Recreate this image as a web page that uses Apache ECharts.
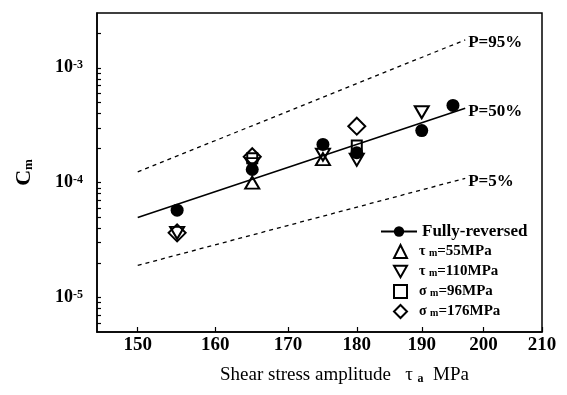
<!DOCTYPE html>
<html>
<head>
<meta charset="utf-8">
<script src="https://cdn.jsdelivr.net/npm/echarts@6/dist/echarts.min.js"></script>
<style>html,body{margin:0;padding:0;background:#fff}#c{width:567px;height:395px}</style>
</head>
<body>
<div id="c"></div>
<script>
// ---- data ----
var xTicks = [150, 160, 170, 180, 190, 200, 210];
var yMajorTicks = [1e-5, 1e-4, 1e-3];
var yAllTicks = [6e-6, 7e-6, 8e-6, 9e-6, 1e-5, 2e-5, 3e-5, 4e-5, 5e-5, 6e-5, 7e-5, 8e-5, 9e-5,
  1e-4, 2e-4, 3e-4, 4e-4, 5e-4, 6e-4, 7e-4, 8e-4, 9e-4, 1e-3, 2e-3];

var fullyX = [155, 165, 175, 180, 190, 195];
var fullyY = [5.75e-5, 1.3e-4, 2.15e-4, 1.82e-4, 2.84e-4, 4.7e-4];

var tau55X = [165, 175];
var tau55Y = [1.0e-4, 1.6e-4];

var tau110X = [155, 165, 175, 180, 190];
var tau110Y = [3.65e-5, 1.45e-4, 1.75e-4, 1.58e-4, 4.1e-4];

var sig96X = [165, 180];
var sig96Y = [1.63e-4, 2.1e-4];

var sig176X = [155, 165, 180];
var sig176Y = [3.65e-5, 1.68e-4, 3.1e-4];

var fitX = [150, 197];
var p50Y = [4.97e-5, 4.45e-4];
var p95Y = [1.24e-4, 1.75e-3];
var p5Y = [1.9e-5, 1.09e-4];

var names = ['Fully-reversed', 'τm=55MPa', 'τm=110MPa', 'σm=96MPa', 'σm=176MPa'];

function pairs(xs, ys) { return xs.map(function (x, i) { return [x, ys[i]]; }); }

var serif = '"Liberation Serif", "DejaVu Serif", serif';
var hollow = { color: 'rgba(255,255,255,0)', borderColor: '#000', borderWidth: 2, opacity: 1 };

function fitLine(ys, label, dashed) {
  return {
    type: 'line', data: pairs(fitX, ys), symbol: 'none', silent: true,
    lineStyle: { color: '#000', width: dashed ? 1.3 : 1.6, type: dashed ? [4, 4] : 'solid' },
    endLabel: { show: true, formatter: label, distance: 3, color: '#000', fontFamily: serif,
      fontSize: 17, fontWeight: 'bold', offset: [0, 3] },
    z: 1
  };
}

var chart = echarts.init(document.getElementById('c'));
chart.setOption({
  animation: false,
  backgroundColor: '#fff',
  grid: { left: 97, right: 25, top: 13, bottom: 63, show: true, borderColor: '#000', borderWidth: 1.5 },
  xAxis: {
    type: 'log', logBase: 10, min: 145, max: 210,
    name: '{t|Shear stress amplitude   τ }{s|a}{t|  MPa}',
    nameLocation: 'middle', nameGap: 34,
    nameTextStyle: { padding: [0, 0, 0, 50],
      rich: { t: { fontFamily: serif, fontSize: 19, color: '#000' },
              s: { fontFamily: serif, fontSize: 12, fontWeight: 'bold', color: '#000', verticalAlign: 'bottom' } } },
    axisLine: { show: true, onZero: false, lineStyle: { color: '#000', width: 1.5 } },
    axisTick: { show: true, inside: true, length: 5, customValues: xTicks, lineStyle: { color: '#000', width: 1.2 } },
    axisLabel: { customValues: xTicks, color: '#000', fontFamily: serif, fontSize: 19, fontWeight: 'bold', margin: 4,
      formatter: function (v) { return String(Math.round(v)); } },
    splitLine: { show: false }, minorTick: { show: false }
  },
  yAxis: {
    type: 'log', logBase: 10, min: 5e-6, max: 3e-3,
    name: '{c|C}{m|m}', nameLocation: 'middle', nameGap: 62, nameRotate: 90,
    nameTextStyle: { rich: { c: { fontFamily: serif, fontSize: 22, fontWeight: 'bold', color: '#000' },
      m: { fontFamily: serif, fontSize: 13, fontWeight: 'bold', color: '#000', verticalAlign: 'bottom' } } },
    axisLine: { show: true, onZero: false, lineStyle: { color: '#000', width: 1.5 } },
    axisTick: { show: true, inside: true, length: 4, customValues: yAllTicks, lineStyle: { color: '#000', width: 1.2 } },
    axisLabel: { customValues: yMajorTicks, margin: 14,
      formatter: function (v) { return '{n|10}{s|' + Math.round(Math.log10(v)) + '}'; },
      rich: { n: { fontFamily: serif, fontSize: 18, fontWeight: 'bold', color: '#000' },
              s: { fontFamily: serif, fontSize: 12, fontWeight: 'bold', color: '#000', verticalAlign: 'top' } } },
    splitLine: { show: false }, minorTick: { show: false }
  },
  legend: [{
    orient: 'vertical', left: 375, top: 218, itemWidth: 36, itemHeight: 13,
    data: [{ name: names[0], lineStyle: { color: '#000', width: 2, opacity: 1 } }],
    textStyle: { fontFamily: serif, fontSize: 17, fontWeight: 'bold', color: '#000' }
  }, {
    orient: 'vertical', left: 388, top: 239, itemWidth: 13, itemHeight: 13, itemGap: 5,
    data: [{ name: names[1] }, { name: names[2], icon: 'path://M0,0L10,0L5,8.66Z' }, { name: names[3] }, { name: names[4] }],
    formatter: function (name) {
      return '{g|' + name.charAt(0) + ' }{sub|m}{v|' + name.slice(2) + '}';
    },
    textStyle: { color: '#000', fontFamily: serif, fontSize: 15, fontWeight: 'bold', lineHeight: 13,
      padding: [0, 0, 0, 7],
      rich: { g: { fontFamily: serif, fontSize: 14, color: '#000', lineHeight: 13 },
              sub: { fontFamily: serif, fontSize: 10, fontWeight: 'bold', color: '#000', verticalAlign: 'bottom', lineHeight: 13 },
              v: { fontFamily: serif, fontSize: 15, fontWeight: 'bold', color: '#000', lineHeight: 13 } } }
  }],
  series: [
    fitLine(p95Y, 'P=95%', true),
    fitLine(p50Y, 'P=50%', false),
    fitLine(p5Y, 'P=5%', true),
    { name: names[0], type: 'line', data: pairs(fullyX, fullyY), symbol: 'circle', symbolSize: 13,
      itemStyle: { color: '#000' }, lineStyle: { opacity: 0, width: 0 }, z: 3 },
    { name: names[1], type: 'scatter', data: pairs(tau55X, tau55Y), symbol: 'triangle', symbolSize: [14, 12],
      itemStyle: hollow, z: 4 },
    { name: names[2], type: 'scatter', data: pairs(tau110X, tau110Y), symbol: 'triangle', symbolRotate: 180,
      symbolSize: [14, 12], itemStyle: hollow, z: 4 },
    { name: names[3], type: 'scatter', data: pairs(sig96X, sig96Y), symbol: 'rect', symbolSize: 10,
      itemStyle: hollow, z: 4 },
    { name: names[4], type: 'scatter', data: pairs(sig176X, sig176Y), symbol: 'diamond', symbolSize: 17,
      itemStyle: hollow, z: 4 }
  ]
});
</script>
</body>
</html>
